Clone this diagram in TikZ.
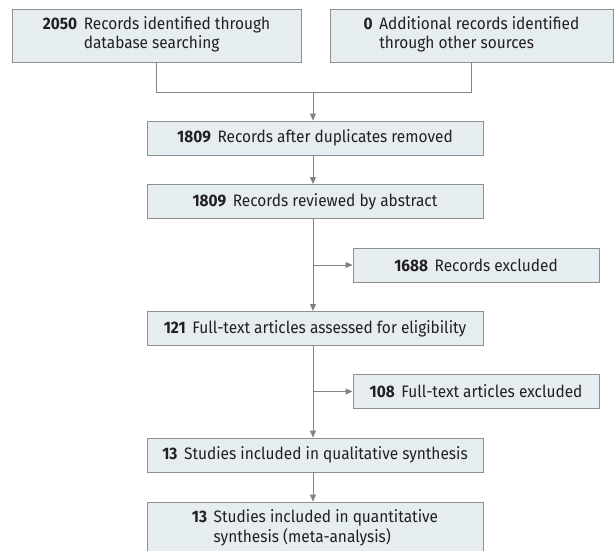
\documentclass[tikz,border=0pt]{standalone}
\usepackage{fontspec}
\setmainfont{Fira Sans}[FakeStretch=0.93]
\usetikzlibrary{arrows.meta}
\definecolor{boxfill}{HTML}{E6EDF1}
\definecolor{boxline}{HTML}{8E9092}
\definecolor{arrline}{HTML}{808285}
\definecolor{txt}{HTML}{231F20}
\tikzset{
  box/.style={draw=boxline, fill=boxfill, line width=0.9pt, inner sep=0pt, text=txt,
    font=\fontsize{16.6}{18.8}\selectfont, align=center},
  arr/.style={draw=arrline, line width=0.9pt, -{Triangle[width=6pt,length=7pt]}},
  conn/.style={draw=arrline, line width=0.9pt},
}
\newcommand{\num}[1]{\textbf{#1}\hspace{0.4em}}
\begin{document}
\begin{tikzpicture}[x=1pt,y=-1pt]
\clip (0,0) rectangle (614,550);
\node[box, minimum width=289pt, minimum height=53pt] (b1) at (156.5,35.5)
  {\begin{tabular}{@{}l@{\hspace{0.4em}}l@{}}\textbf{2050} & Records identified through\\ & database searching\end{tabular}};
\node[box, minimum width=283pt, minimum height=53pt] (b2) at (471.5,35.5)
  {\begin{tabular}{@{}l@{\hspace{0.4em}}l@{}}\textbf{0} & Additional records identified\\ & through other sources\end{tabular}};
\node[box, minimum width=336pt, minimum height=34pt] (b3) at (315,138) {\num{1809}Records after duplicates removed};
\node[box, minimum width=336pt, minimum height=34pt] (b4) at (315,201.5) {\num{1809}Records reviewed by abstract};
\node[box, minimum width=246pt, minimum height=34pt] (b5) at (476,265) {\num{1688}Records excluded};
\node[box, minimum width=336pt, minimum height=34pt] (b6) at (315,328.5) {\num{121}Full-text articles assessed for eligibility};
\node[box, minimum width=246pt, minimum height=34pt] (b7) at (476,391.5) {\num{108}Full-text articles excluded};
\node[box, minimum width=336pt, minimum height=34pt] (b8) at (315,455) {\num{13}Studies included in qualitative synthesis};
\node[box, minimum width=336pt, minimum height=54pt] (b9) at (315,529)
  {\begin{tabular}{@{}l@{\hspace{0.4em}}l@{}}\textbf{13} & Studies included in quantitative\\ & synthesis (meta-analysis)\end{tabular}};
\coordinate (jl) at (156.5,92);
\coordinate (jr) at (471.5,92);
\coordinate (jm) at (313,92);
\draw[conn] (b1.south) -- (jl) -- (jr) -- (b2.south);
\draw[arr] (jm) -- (jm |- b3.north);
\draw[arr] (b3.south -| jm) -- (b4.north -| jm);
\draw[arr] (b4.south -| jm) -- (b6.north -| jm);
\draw[arr] (jm |- b5.west) -- (b5.west);
\draw[arr] (b6.south -| jm) -- (b8.north -| jm);
\draw[arr] (jm |- b7.west) -- (b7.west);
\draw[arr] (b8.south -| jm) -- (b9.north -| jm);
\end{tikzpicture}
\end{document}
